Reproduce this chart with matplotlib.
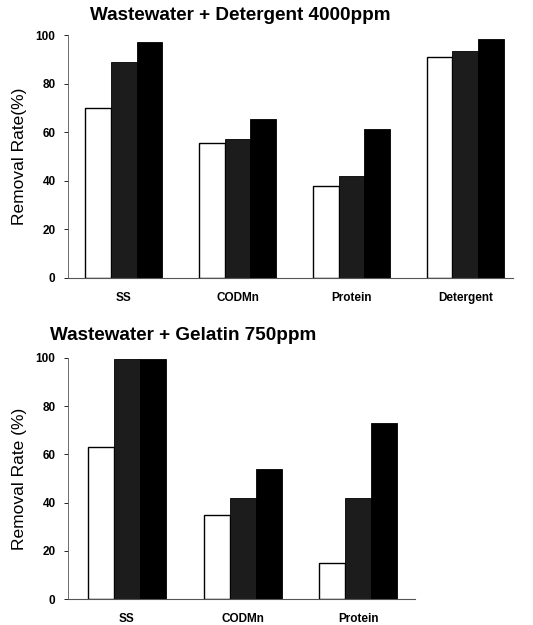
import numpy as np
import matplotlib.pyplot as plt

plt.rcParams['font.family'] = ['Liberation Sans', 'DejaVu Sans']

# Top panel: wastewater + detergent
top_cats = ['SS', 'CODMn', 'Protein', 'Detergent']
top_a = [70, 55.5, 38, 91]
top_b = [89, 57, 42, 93.5]
top_c = [97, 65.5, 61.5, 98.5]

# Bottom panel: wastewater + gelatin
bot_cats = ['SS', 'CODMn', 'Protein']
bot_a = [63, 35, 15]
bot_b = [99.5, 42, 42]
bot_c = [99.5, 54, 73]

yticks = [0, 20, 40, 60, 80, 100]


def draw_panel(ax, cats, a, b, c, ylabel, xlim):
    x = np.arange(len(cats))
    w = 0.225
    ax.bar(x - w, a, w, color='white', edgecolor='black', linewidth=1.0)
    ax.bar(x, b, w, color='#1c1c1c', edgecolor='black', linewidth=0.6)
    ax.bar(x + w, c, w, color='black', edgecolor='black', linewidth=0.6)
    ax.set_ylim(0, 100)
    ax.set_xlim(*xlim)
    ax.set_yticks(yticks)
    ax.set_yticklabels([str(t) for t in yticks], fontsize=8.5, fontweight='bold')
    ax.set_xticks(x)
    ax.set_xticklabels(cats, fontsize=8.5, fontweight='bold')
    ax.tick_params(axis='x', length=0, pad=10)
    ax.tick_params(axis='y', length=3, width=0.6, pad=6, direction='out')
    ax.spines['top'].set_visible(False)
    ax.spines['right'].set_visible(False)
    ax.spines['left'].set_linewidth(0.6)
    ax.spines['left'].set_linestyle((0, (4, 1)))
    ax.spines['left'].set_color('#555555')
    ax.spines['bottom'].set_linewidth(0.8)
    ax.spines['bottom'].set_linestyle((0, (4, 1)))
    ax.spines['bottom'].set_color('#555555')
    ax.set_ylabel(ylabel, fontsize=12.5, labelpad=6)


fig = plt.figure(figsize=(5.33, 6.25), dpi=100)

ax1 = fig.add_axes([0.1276, 0.5552, 0.835, 0.3888])
draw_panel(ax1, top_cats, top_a, top_b, top_c, 'Removal Rate(%)', (-0.49, 3.42))

ax2 = fig.add_axes([0.1276, 0.0416, 0.651, 0.3856])
draw_panel(ax2, bot_cats, bot_a, bot_b, bot_c, 'Removal Rate (%)', (-0.51, 2.49))

fig.text(90 / 533, 1 - 20 / 625, 'Wastewater + Detergent 4000ppm',
         fontsize=13.6, fontweight='bold', ha='left', va='baseline')
fig.text(50 / 533, 1 - 340 / 625, 'Wastewater + Gelatin 750ppm',
         fontsize=13.6, fontweight='bold', ha='left', va='baseline')

fig.savefig('out.png', dpi=100)
